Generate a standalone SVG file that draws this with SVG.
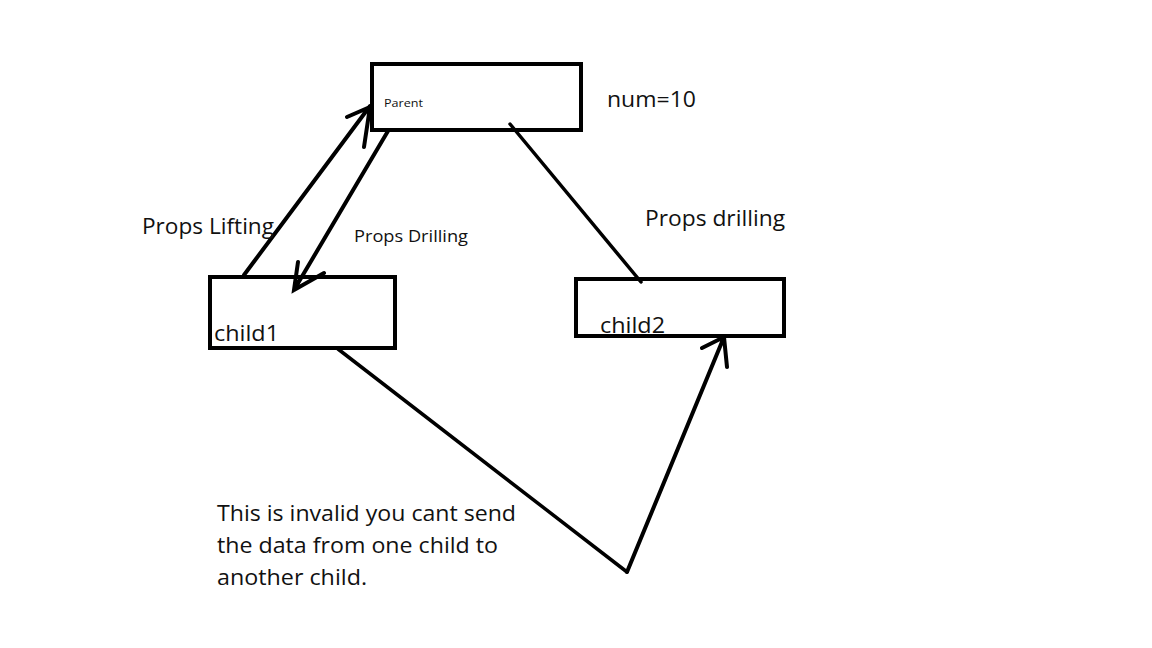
<svg xmlns="http://www.w3.org/2000/svg" width="1152" height="648" viewBox="0 0 1152 648">
<style>
.box{fill:#fff;stroke:#000;stroke-width:4}
.ln{stroke:#000;stroke-width:4;stroke-linecap:round;fill:none}
text{font-family:"Open Sans","Liberation Sans",sans-serif;fill:#111}
.big{font-size:21px}
</style>
<rect width="1152" height="648" fill="#fff"/>
<g id="parent">
<rect class="box" x="372" y="64" width="209" height="66"/>
<text x="384" y="107" font-size="11" textLength="39" lengthAdjust="spacingAndGlyphs">Parent</text>
</g>
<g id="child1">
<rect class="box" x="210" y="277" width="185" height="71"/>
<text class="big" x="214" y="341" textLength="65" lengthAdjust="spacingAndGlyphs">child1</text>
</g>
<g id="child2">
<rect class="box" x="576" y="279" width="208" height="57"/>
<text class="big" x="600" y="333" textLength="65" lengthAdjust="spacingAndGlyphs">child2</text>
</g>
<g id="connectors">
<path class="ln" d="M244,275 L370,106 M347,117 L370,107 L364,147"/>
<path class="ln" d="M388,131 L294,290 M298,262 L294,290 L324,273"/>
<path class="ln" style="stroke-width:3.5" d="M510,124 L641,282"/>
<path class="ln" style="stroke-width:3.5" d="M338,349 L627,572"/>
<path class="ln" d="M627,572 L724,337 M702,348 L724,337 L727,367"/>
</g>
<g id="labels">
<text class="big" x="607" y="107" textLength="89" lengthAdjust="spacingAndGlyphs">num=10</text>
<text class="big" x="645" y="226" textLength="140" lengthAdjust="spacingAndGlyphs">Props drilling</text>
<text class="big" x="142" y="234" textLength="132" lengthAdjust="spacingAndGlyphs">Props Lifting</text>
<text x="354" y="242" font-size="17" textLength="114" lengthAdjust="spacingAndGlyphs">Props Drilling</text>
<text class="big" x="217" y="521" textLength="299" lengthAdjust="spacingAndGlyphs">This is invalid you cant send</text>
<text class="big" x="217" y="553" textLength="281" lengthAdjust="spacingAndGlyphs">the data from one child to</text>
<text class="big" x="217" y="585" textLength="150" lengthAdjust="spacingAndGlyphs">another child.</text>
</g>
</svg>
